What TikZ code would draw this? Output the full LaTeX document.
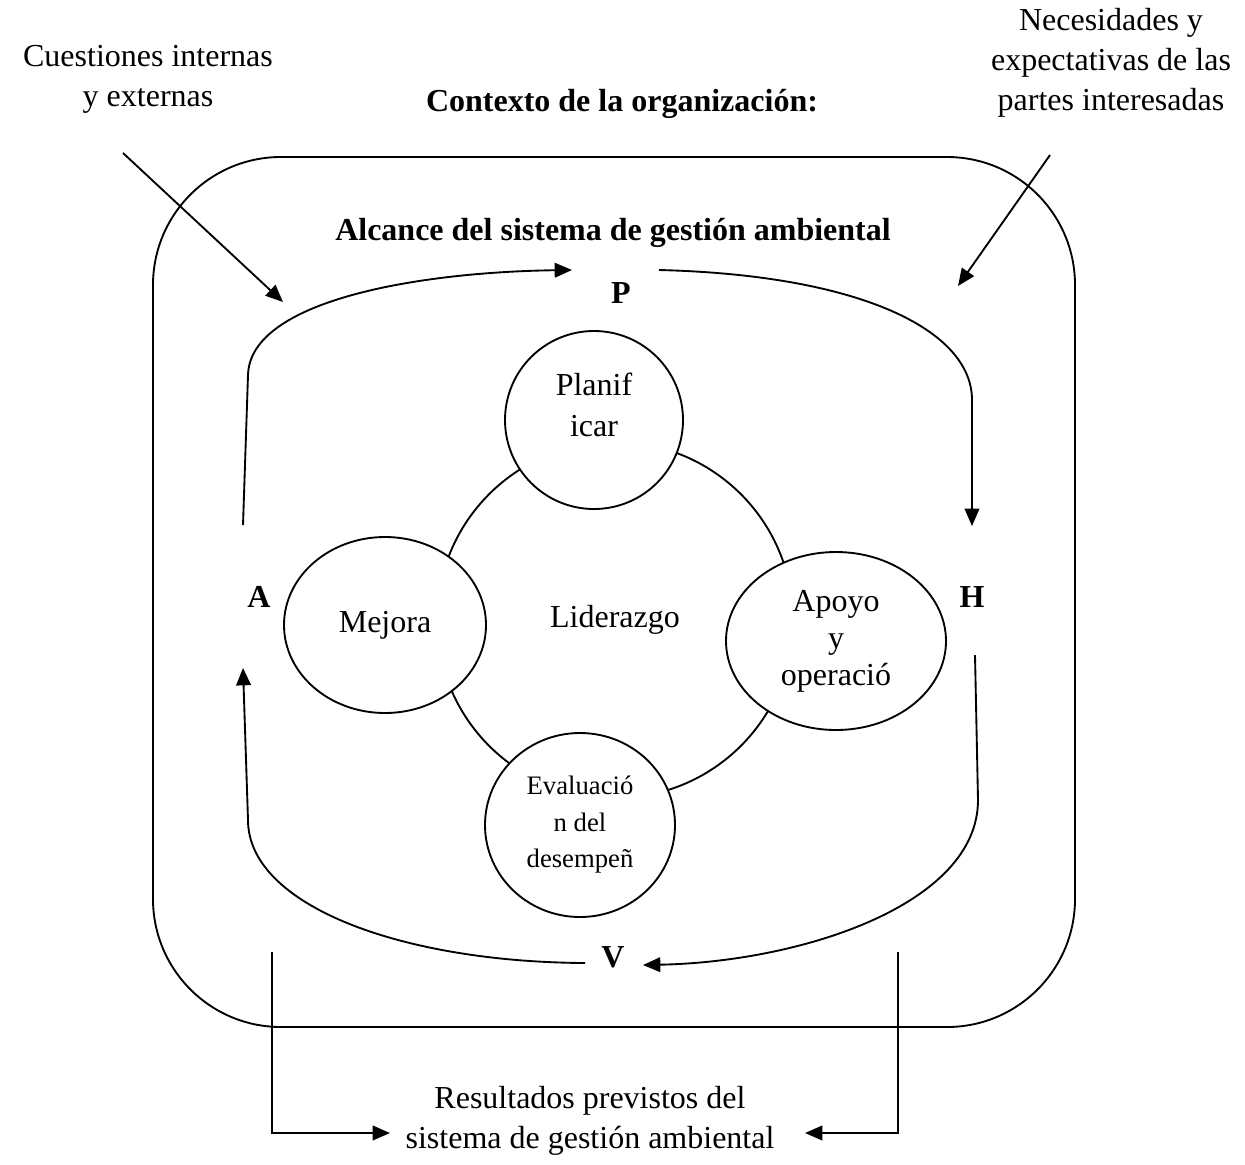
\documentclass[tikz,border=0pt]{standalone}
\usepackage{fontspec}
\setmainfont{Liberation Serif}
\usetikzlibrary{arrows.meta,shapes.geometric}
\tikzset{
  texto/.style={align=center,font=\fontsize{12}{15}\selectfont},
  letra/.style={font=\fontsize{12}{15}\selectfont\bfseries},
  etapa/.style={shape=ellipse,draw=black,fill=white,inner sep=0pt,align=center,font=\fontsize{12}{13.9}\selectfont},
  flecha/.style={-{Triangle[length=6.5pt,width=5.5pt]}}
}
\begin{document}
\begin{tikzpicture}[x=0.375pt,y=-0.375pt,line width=0.7pt]
    \useasboundingbox (0,0) rectangle (1245,1164);
    % marco del alcance
    \draw[rounded corners=48pt] (153,157) rectangle (1075,1027);
    % textos
    \node[texto] (Cuestiones) at (148,79) {Cuestiones internas\\y externas};
    \node[texto] (Necesidades) at (1111,63) {Necesidades y\\expectativas de las\\partes interesadas};
    \node[letra] (Contexto) at (622,104) {Contexto de la organización:};
    \node[letra] (Alcance) at (613,233) {Alcance del sistema de gestión ambiental};
    \node[texto] (Resultados) at (590,1121) {Resultados previstos del\\sistema de gestión ambiental};
    % ciclo
    \node[shape=circle,draw=black,minimum size=133.5pt,texto] (Liderazgo) at (615,620) {Liderazgo};
    \node[etapa,minimum width=66.75pt,minimum height=66.75pt,
          label={[texto,font=\fontsize{12}{15.4}\selectfont,yshift=5.6pt]center:{Planif\\icar}}] (Planificar) at (594,420) {};
    \node[etapa,minimum width=75.75pt,minimum height=66pt] (Mejora) at (385,625) {Mejora};
    \node[etapa,minimum width=82.5pt,minimum height=66.75pt] (Apoyo) at (836,641) {Apoyo\\y\\operació};
    \node[etapa,minimum width=71.25pt,minimum height=69pt,font=\fontsize{10}{13.7}\selectfont] (Evaluacion) at (580,825) {Evaluació\\n del\\desempeñ};
    \node[letra] (P) at (621,293) {P};
    \node[letra] (H) at (972,597) {H};
    \node[letra] (A) at (259,597) {A};
    \node[letra] (V) at (613,957) {V};
    % extremos de las flechas
    \coordinate (ci) at (123,153);
    \coordinate (cf) at (283,302);
    \coordinate (ni) at (1050,155);
    \coordinate (nf) at (958,286);
    \coordinate (api) at (243,525);
    \coordinate (apf) at (572,270);
    \coordinate (phi) at (659,270);
    \coordinate (phf) at (972,526);
    \coordinate (hvi) at (975,655);
    \coordinate (hvf) at (643,965);
    \coordinate (vai) at (585,963);
    \coordinate (vaf) at (243,668);
    \coordinate (ri) at (272,952);
    \coordinate (rf) at (390,1133);
    \coordinate (si) at (898,952);
    \coordinate (sf) at (805,1133);
    % flechas
    \draw[flecha] (ci) -- (cf);
    \draw[flecha] (ni) -- (nf);
    \draw[flecha] (api) -- (248,375) .. controls (250,300) and (420,272) .. (apf);
    \draw[flecha] (phi) .. controls (860,275) and (972,330) .. (972,400) -- (phf);
    \draw[flecha] (hvi) -- (978,800) .. controls (978,905) and (800,962) .. (hvf);
    \draw[flecha] (vai) .. controls (400,962) and (248,905) .. (248,820) -- (vaf);
    \draw[flecha] (ri) |- (rf);
    \draw[flecha] (si) |- (sf);
\end{tikzpicture}
\end{document}
